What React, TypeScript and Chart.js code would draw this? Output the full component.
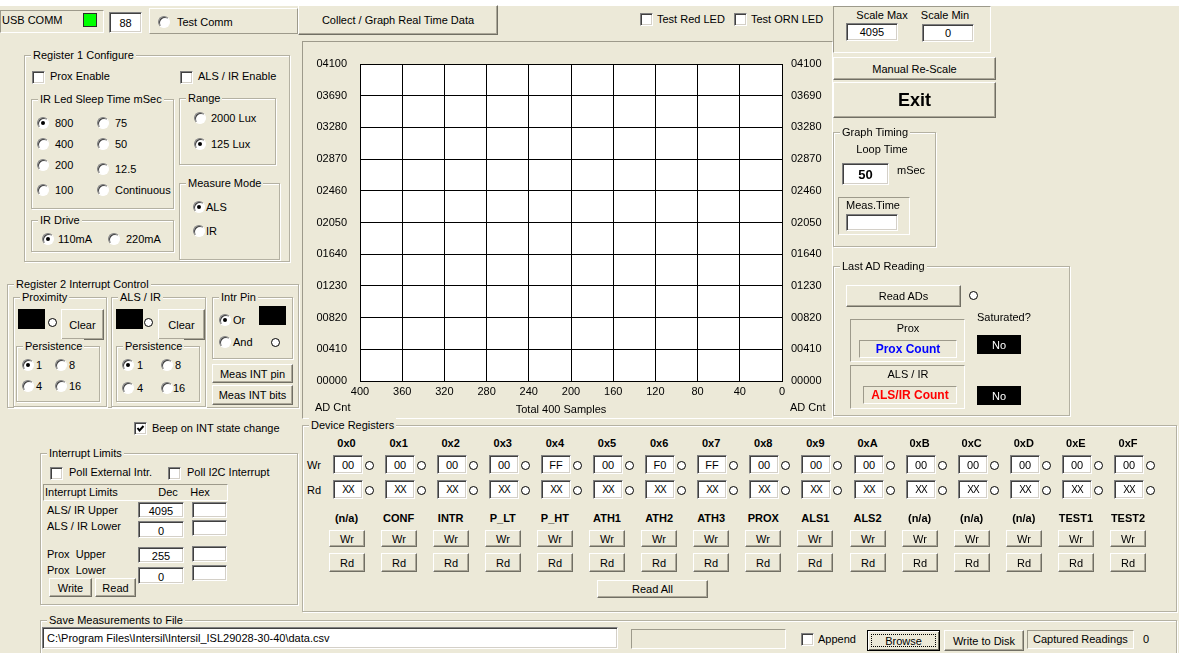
import React, { useEffect, useRef } from 'react';
import { Chart, registerables } from 'chart.js';

Chart.register(...registerables);

// ---------- chart data ----------
const yTickValues = [0, 410, 820, 1230, 1640, 2050, 2460, 2870, 3280, 3690, 4100];
const yTickLabels = ['00000', '00410', '00820', '01230', '01640', '02050', '02460', '02870', '03280', '03690', '04100'];
const xTickValues = [0, 40, 80, 120, 160, 200, 240, 280, 320, 360, 400];
const xTickLabels = ['0', '40', '80', '120', '160', '200', '240', '280', '320', '360', '400'];
const proxCounts: number[] = [];
const alsIrCounts: number[] = [];
const axisUnitLabel = 'AD Cnt';
const xAxisTitle = 'Total 400 Samples';

// ---------- register table ----------
const registerAddresses = ['0x0', '0x1', '0x2', '0x3', '0x4', '0x5', '0x6', '0x7', '0x8', '0x9', '0xA', '0xB', '0xC', '0xD', '0xE', '0xF'];
const registerNames = ['(n/a)', 'CONF', 'INTR', 'P_LT', 'P_HT', 'ATH1', 'ATH2', 'ATH3', 'PROX', 'ALS1', 'ALS2', '(n/a)', '(n/a)', '(n/a)', 'TEST1', 'TEST2'];
const writeValues = ['00', '00', '00', '00', 'FF', '00', 'F0', 'FF', '00', '00', '00', '00', '00', '00', '00', '00'];

const BG = '#ECE9D8';
const FONT = '"Liberation Sans", Arial, Helvetica, sans-serif';

const Box = ({ x, y, w, h, style, children }: any) => (
  <div style={{ position: 'absolute', left: x, top: y, width: w, height: h, boxSizing: 'border-box', ...style }}>{children}</div>
);
const T = ({ x, y, children, style }: any) => (
  <div style={{ position: 'absolute', left: x, top: y - 7, height: 14, lineHeight: '14px', whiteSpace: 'nowrap', ...style }}>{children}</div>
);
const TC = ({ cx, y, children, style }: any) => (
  <div style={{ position: 'absolute', left: cx - 100, width: 200, top: y - 7, height: 14, lineHeight: '14px', textAlign: 'center', whiteSpace: 'nowrap', ...style }}>{children}</div>
);
const Group = ({ x, y, w, h, title }: any) => (
  <>
    <Box x={x} y={y} w={w} h={h} style={{ border: '1px solid #B4B1A2', boxShadow: 'inset 1px 1px 0 #fff, 1px 1px 0 #fff' }} />
    <div style={{ position: 'absolute', left: x + 7, top: y - 7, lineHeight: '14px', height: 14, background: BG, padding: '0 2px', whiteSpace: 'nowrap' }}>{title}</div>
  </>
);
const Btn = ({ x, y, w, h, label, style }: any) => (
  <Box x={x} y={y} w={w} h={h} style={{ background: BG, border: '1px solid', borderColor: '#fff #716F64 #716F64 #fff', boxShadow: 'inset -1px -1px 0 #ACA899', display: 'flex', alignItems: 'center', justifyContent: 'center', whiteSpace: 'nowrap', ...style }}>{label}</Box>
);
const Field = ({ x, y, w, h, value, left, style }: any) => (
  <Box x={x} y={y} w={w} h={h} style={{ background: '#fff', border: '1px solid', borderColor: '#808080 #fff #fff #808080', boxShadow: 'inset 1px 1px 0 #404040, inset -1px -1px 0 #D4D0C8', display: 'flex', alignItems: 'center', justifyContent: left ? 'flex-start' : 'center', paddingLeft: left ? 4 : 0, whiteSpace: 'nowrap', overflow: 'hidden', ...style }}>{value}</Box>
);
const Sunken = ({ x, y, w, h, style }: any) => (
  <Box x={x} y={y} w={w} h={h} style={{ border: '1px solid', borderColor: '#9D9A8B #fff #fff #9D9A8B', ...style }} />
);
const Radio = ({ x, y, on }: any) => (
  <Box x={x} y={y - 6} w={12} h={12} style={{ borderRadius: '50%', background: '#fff', border: '1px solid', borderColor: '#808080 #fff #fff #808080', boxShadow: 'inset 1px 1px 0 #404040' }}>
    {on && <div style={{ position: 'absolute', left: 3, top: 3, width: 4, height: 4, borderRadius: '50%', background: '#000' }} />}
  </Box>
);
const Check = ({ x, y, on }: any) => (
  <Box x={x} y={y - 6} w={13} h={13} style={{ background: '#fff', border: '1px solid', borderColor: '#808080 #fff #fff #808080', boxShadow: 'inset 1px 1px 0 #404040, inset -1px -1px 0 #D4D0C8' }}>
    {on && (
      <svg width="11" height="11" style={{ position: 'absolute', left: 0, top: 0 }}>
        <path d="M2.5 5 L4.5 7.5 L8.5 3" stroke="#000" strokeWidth="2" fill="none" />
      </svg>
    )}
  </Box>
);
const Dot = ({ cx, cy }: any) => (
  <Box x={cx - 4} y={cy - 4} w={9} h={9} style={{ borderRadius: '50%', border: '1px solid #000', background: '#fff' }} />
);
const BlackBox = ({ x, y, w, h, text }: any) => (
  <Box x={x} y={y} w={w} h={h} style={{ background: '#000', color: '#fff', display: 'flex', alignItems: 'center', justifyContent: 'center' }}>{text}</Box>
);

function GraphChart() {
  const ref = useRef<HTMLCanvasElement>(null);
  useEffect(() => {
    const canvas = ref.current;
    if (!canvas) return;
    const font = { family: FONT, size: 11 };
    const bgPlugin = {
      id: 'plotBg',
      beforeDraw(chart: any) {
        const { ctx, chartArea: a } = chart;
        ctx.save();
        ctx.fillStyle = '#fff';
        ctx.fillRect(a.left, a.top, a.right - a.left, a.bottom - a.top);
        ctx.restore();
      },
    };
    const labelPlugin = {
      id: 'axisLabels',
      afterDraw(chart: any) {
        const { ctx, chartArea: a } = chart;
        ctx.save();
        ctx.font = `11px ${FONT}`;
        ctx.fillStyle = '#000';
        ctx.textBaseline = 'middle';
        ctx.textAlign = 'left';
        ctx.fillText(axisUnitLabel, a.left - 45, a.bottom + 27);
        ctx.fillText(axisUnitLabel, a.right + 8, a.bottom + 27);
        ctx.textAlign = 'center';
        ctx.fillText(xAxisTitle, a.left + 201, a.bottom + 29);
        ctx.restore();
      },
    };
    const setY = (s: any) => { s.ticks = yTickValues.map((v) => ({ value: v })); };
    const yLabel = (v: any) => yTickLabels[yTickValues.indexOf(Number(v))];
    const chart = new Chart(canvas, {
      type: 'line',
      data: {
        datasets: [
          { label: 'Prox', data: proxCounts.map((v, i) => ({ x: i, y: v })), borderColor: '#0000FF', pointRadius: 0, yAxisID: 'y' },
          { label: 'ALS/IR', data: alsIrCounts.map((v, i) => ({ x: i, y: v })), borderColor: '#FF0000', pointRadius: 0, yAxisID: 'y' },
        ],
      },
      options: {
        animation: false,
        responsive: false,
        devicePixelRatio: 1,
        layout: { padding: { top: 22, left: 0, right: 0, bottom: 0 } },
        plugins: { legend: { display: false }, tooltip: { enabled: false } },
        scales: {
          x: {
            type: 'linear', reverse: true, min: 0, max: 400,
            afterBuildTicks: (s: any) => { s.ticks = xTickValues.map((v) => ({ value: v })); },
            afterFit: (s: any) => { s.height = 36; },
            ticks: { color: '#000', font, padding: 4, maxRotation: 0, autoSkip: false, callback: (v: any) => xTickLabels[xTickValues.indexOf(Number(v))] },
            grid: { color: '#000', lineWidth: 1, drawTicks: false },
            border: { display: true, color: '#000', width: 1 },
          },
          y: {
            type: 'linear', position: 'left', min: 0, max: 4100,
            afterBuildTicks: setY,
            afterFit: (s: any) => { s.width = 57; },
            ticks: { color: '#000', font, padding: 13, autoSkip: false, callback: yLabel },
            grid: { color: '#000', lineWidth: 1, drawTicks: false },
            border: { display: true, color: '#000', width: 1 },
          },
          y2: {
            type: 'linear', position: 'right', min: 0, max: 4100,
            afterBuildTicks: setY,
            afterFit: (s: any) => { s.width = 49; },
            ticks: { color: '#000', font, padding: 9, autoSkip: false, callback: yLabel },
            grid: { display: false, drawTicks: false },
            border: { display: true, color: '#000', width: 1 },
          },
        },
      } as any,
      plugins: [bgPlugin, labelPlugin],
    });
    return () => chart.destroy();
  }, []);
  return <canvas ref={ref} width={528} height={375} style={{ position: 'absolute', left: 303, top: 42, width: 528, height: 375 }} />;
}

export default function App() {
  const colX = registerAddresses.map((_, i) => 346.5 + i * 52.1);
  return (
    <div style={{ position: 'fixed', left: 0, top: 0, width: 1179, height: 653, background: BG, overflow: 'hidden', fontFamily: FONT, fontSize: 11, color: '#000' }}>
      <Box x={0} y={0} w={1179} h={6} style={{ background: '#fff' }} />

      {/* top left */}
      <Sunken x={0} y={10} w={104} h={23} />
      <T x={2} y={20}>USB COMM</T>
      <Box x={83} y={13} w={14} h={14} style={{ background: '#00FF00', border: '1px solid #2A2A2A' }} />
      <Field x={109} y={12} w={33} h={21} value="88" />
      <Box x={149} y={8} w={149} h={26} style={{ border: '1px solid', borderColor: '#fff #9D9A8B #9D9A8B #fff' }} />
      <Radio x={158} y={22} />
      <T x={177} y={22}>Test Comm</T>

      <Btn x={298} y={5} w={200} h={30} label="Collect / Graph Real Time Data" />
      <Check x={640} y={19} />
      <T x={657} y={19}>Test Red LED</T>
      <Check x={734} y={19} />
      <T x={751} y={19}>Test ORN LED</T>

      {/* chart panel */}
      <Sunken x={302} y={41} w={531} h={378} />
      <GraphChart />

      {/* Register 1 */}
      <Group x={24} y={55} w={266} h={207} title="Register 1 Configure" />
      <Check x={32} y={77} />
      <T x={50} y={76}>Prox Enable</T>
      <Check x={180} y={77} />
      <T x={198} y={76}>ALS / IR Enable</T>
      <Group x={31} y={99} w={143} h={110} title="IR Led Sleep Time mSec" />
      <Radio x={37} y={123} on /><T x={55} y={123}>800</T>
      <Radio x={37} y={144} /><T x={55} y={144}>400</T>
      <Radio x={37} y={165} /><T x={55} y={165}>200</T>
      <Radio x={37} y={190} /><T x={55} y={190}>100</T>
      <Radio x={97} y={123} /><T x={115} y={123}>75</T>
      <Radio x={97} y={144} /><T x={115} y={144}>50</T>
      <Radio x={97} y={169} /><T x={115} y={169}>12.5</T>
      <Radio x={97} y={190} /><T x={115} y={190}>Continuous</T>
      <Group x={31} y={220} w={143} h={32} title="IR Drive" />
      <Radio x={42} y={239} on /><T x={58} y={239}>110mA</T>
      <Radio x={108} y={239} /><T x={126} y={239}>220mA</T>
      <Group x={179} y={98} w={97} h={67} title="Range" />
      <Radio x={194} y={118} /><T x={211} y={118}>2000 Lux</T>
      <Radio x={194} y={144} on /><T x={211} y={144}>125 Lux</T>
      <Group x={179} y={183} w={101} h={77} title="Measure Mode" />
      <Radio x={193} y={207} on /><T x={206} y={207}>ALS</T>
      <Radio x={193} y={231} /><T x={206} y={231}>IR</T>

      {/* Register 2 */}
      <Group x={7} y={284} w={292} h={124} title="Register 2 Interrupt Control" />
      <Group x={13} y={297} w={94} h={110} title="Proximity" />
      <Box x={18} y={309} w={27} h={20} style={{ background: '#000' }} />
      <Dot cx={52} cy={322} />
      <Btn x={61} y={309} w={43} h={31} label="Clear" />
      <Group x={16} y={346} w={84} h={56} title="Persistence" />
      <Radio x={22} y={365} on /><T x={36} y={365}>1</T>
      <Radio x={55} y={365} /><T x={69} y={365}>8</T>
      <Radio x={22} y={386} /><T x={36} y={386}>4</T>
      <Radio x={55} y={386} /><T x={69} y={386}>16</T>

      <Group x={111} y={297} w={95} h={110} title="ALS / IR" />
      <Box x={116} y={309} w={27} h={20} style={{ background: '#000' }} />
      <Dot cx={148} cy={322} />
      <Btn x={158} y={309} w={47} h={31} label="Clear" />
      <Group x={116} y={346} w={84} h={56} title="Persistence" />
      <Radio x={122} y={365} on /><T x={137} y={365}>1</T>
      <Radio x={161} y={365} /><T x={175} y={365}>8</T>
      <Radio x={122} y={388} /><T x={137} y={388}>4</T>
      <Radio x={161} y={388} /><T x={173} y={388}>16</T>

      <Group x={212} y={297} w={81} h={62} title="Intr Pin" />
      <Radio x={219} y={320} on /><T x={233} y={320}>Or</T>
      <Box x={259} y={306} w={27} h={19} style={{ background: '#000' }} />
      <Radio x={219} y={342} /><T x={233} y={342}>And</T>
      <Dot cx={275} cy={342} />
      <Btn x={212} y={364} w={81} h={19} label="Meas INT pin" />
      <Btn x={212} y={385} w={81} h={20} label="Meas INT bits" />

      {/* Interrupt limits */}
      <Check x={134} y={428} on />
      <T x={152} y={428}>Beep on INT state change</T>
      <Group x={40} y={453} w={258} h={152} title="Interrupt Limits" />
      <Check x={50} y={473} />
      <T x={69} y={472}>Poll External Intr.</T>
      <Check x={168} y={473} />
      <T x={187} y={472}>Poll I2C Interrupt</T>
      <Sunken x={43} y={484} w={185} h={17} />
      <T x={45} y={492}>Interrupt Limits</T>
      <TC cx={168} y={492}>Dec</TC>
      <TC cx={200} y={492}>Hex</TC>
      <T x={47} y={510}>ALS/ IR Upper</T>
      <T x={47} y={526}>ALS / IR Lower</T>
      <T x={47} y={554}>Prox&nbsp; Upper</T>
      <T x={47} y={570}>Prox&nbsp; Lower</T>
      <Field x={138} y={502} w={46} h={16} value="4095" style={{ alignItems: 'flex-end' }} />
      <Field x={138} y={521} w={46} h={17} value="0" style={{ alignItems: 'flex-end' }} />
      <Field x={138} y={547} w={46} h={16} value="255" style={{ alignItems: 'flex-end' }} />
      <Field x={138} y={567} w={46} h={17} value="0" style={{ alignItems: 'flex-end' }} />
      <Field x={192} y={502} w={35} h={16} value="" />
      <Field x={192} y={520} w={35} h={16} value="" />
      <Field x={192} y={546} w={35} h={16} value="" />
      <Field x={192} y={565} w={35} h={16} value="" />
      <Btn x={49} y={578} w={43} h={19} label="Write" />
      <Btn x={95} y={578} w={41} h={19} label="Read" />

      {/* Save */}
      <Group x={40} y={620} w={1137} h={60} title="Save Measurements to File" />
      <Field x={42} y={627} w={576} h={22} left value="C:\Program Files\Intersil\Intersil_ISL29028-30-40\data.csv" />
      <Sunken x={631} y={629} w={155} h={20} />
      <Check x={801} y={639} />
      <T x={818} y={639}>Append</T>
      <Box x={867} y={630} w={73} h={21} style={{ background: BG, border: '1px solid #000', boxShadow: 'inset 1px 1px 0 #fff, inset -1px -1px 0 #716F64' }}>
        <div style={{ position: 'absolute', left: 3, top: 3, right: 3, bottom: 3, border: '1px dotted #000', display: 'flex', alignItems: 'center', justifyContent: 'center' }}>Browse</div>
      </Box>
      <Btn x={944} y={630} w={80} h={21} label="Write to Disk" />
      <Sunken x={1027} y={630} w={107} h={19} />
      <T x={1033} y={639}>Captured Readings</T>
      <T x={1143} y={639}>0</T>

      {/* right column */}
      <Sunken x={833} y={6} w={158} h={47} />
      <TC cx={882} y={15}>Scale Max</TC>
      <TC cx={945} y={15}>Scale Min</TC>
      <Field x={846} y={23} w={52} h={18} value="4095" />
      <Field x={922} y={24} w={52} h={18} value="0" />
      <Btn x={833} y={57} w={163} h={23} label="Manual Re-Scale" />
      <Btn x={833} y={82} w={163} h={36} label="Exit" style={{ fontWeight: 'bold', fontSize: 18 }} />
      <Group x={833} y={132} w={103} h={115} title="Graph Timing" />
      <TC cx={882} y={149}>Loop Time</TC>
      <Field x={842} y={163} w={47} h={22} value="50" style={{ fontWeight: 'bold', fontSize: 13 }} />
      <T x={897} y={170}>mSec</T>
      <Sunken x={838} y={197} w={72} h={38} />
      <T x={846} y={205}>Meas.Time</T>
      <Field x={846} y={214} w={52} h={17} value="" />

      <Group x={833} y={266} w={237} h={150} title="Last AD Reading" />
      <Btn x={846} y={285} w={115} h={22} label="Read ADs" />
      <Dot cx={973} cy={295} />
      <T x={977} y={317}>Saturated?</T>
      <Sunken x={850} y={319} w={115} h={43} />
      <TC cx={908} y={328}>Prox</TC>
      <Sunken x={859} y={340} w={98} h={18} />
      <TC cx={908} y={349} style={{ color: '#0000FF', fontWeight: 'bold', fontSize: 12 }}>Prox Count</TC>
      <BlackBox x={977} y={335} w={44} h={19} text="No" />
      <Sunken x={850} y={365} w={115} h={44} />
      <TC cx={908} y={374}>ALS / IR</TC>
      <Sunken x={863} y={386} w={94} h={18} />
      <TC cx={910} y={395} style={{ color: '#FF0000', fontWeight: 'bold', fontSize: 12 }}>ALS/IR Count</TC>
      <BlackBox x={977} y={386} w={44} h={19} text="No" />

      {/* Device registers */}
      <Group x={302} y={425} w={875} h={187} title="Device Registers" />
      <T x={307} y={465}>Wr</T>
      <T x={307} y={490}>Rd</T>
      {registerAddresses.map((a, i) => (
        <React.Fragment key={a}>
          <TC cx={colX[i]} y={443} style={{ fontWeight: 'bold' }}>{a}</TC>
          <Field x={Math.round(colX[i] - 14)} y={455} w={30} h={19} value={writeValues[i]} />
          <Dot cx={Math.round(colX[i] + 22)} cy={465} />
          <Field x={Math.round(colX[i] - 14)} y={480} w={30} h={19} value="XX" style={{ fontSize: 10, letterSpacing: -1 }} />
          <Dot cx={Math.round(colX[i] + 22)} cy={490} />
          <TC cx={colX[i]} y={518} style={{ fontWeight: 'bold' }}>{registerNames[i]}</TC>
          <Btn x={Math.round(colX[i] - 18)} y={530} w={36} h={17} label="Wr" />
          <Btn x={Math.round(colX[i] - 18)} y={553} w={36} h={19} label="Rd" />
        </React.Fragment>
      ))}
      <Btn x={597} y={580} w={111} h={18} label="Read All" />
    </div>
  );
}
